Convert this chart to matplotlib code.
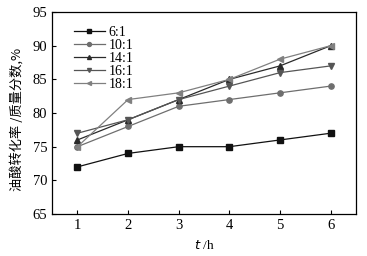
import matplotlib
matplotlib.use("Agg")
import matplotlib.pyplot as plt

hours = [1, 2, 3, 4, 5, 6]
ratios = ["6:1", "10:1", "14:1", "16:1", "18:1"]
conv_6 = [72, 74, 75, 75, 76, 77]
conv_10 = [75, 78, 81, 82, 83, 84]
conv_14 = [76, 79, 82, 85, 87, 90]
conv_16 = [77, 79, 82, 84, 86, 87]
conv_18 = [75, 82, 83, 85, 88, 90]

series = [conv_6, conv_10, conv_14, conv_16, conv_18]
markers = ["s", "o", "^", "v", "<"]
colors = ["#111111", "#6e6e6e", "#2a2a2a", "#555555", "#808080"]

plt.rcParams["font.family"] = ["Liberation Serif", "Noto Sans CJK SC"]

fig = plt.figure(figsize=(3.67, 2.56), dpi=100)
ax = fig.add_axes([0.142, 0.164, 0.828, 0.789])

for vals, lab, m, c in zip(series, ratios, markers, colors):
    ax.plot(hours, vals, marker=m, color=c, markersize=3.8, linewidth=0.9, label=lab)

ax.set_xlim(0.5, 6.5)
ax.set_ylim(65, 95)
ax.set_xticks(hours)
ax.set_yticks(range(65, 96, 5))
ax.tick_params(direction="in", length=3, labelsize=10.5, top=False, right=False)
for s in ax.spines.values():
    s.set_linewidth(0.9)

ax.set_xlabel(r"$\it{t}$ /h", fontsize=9.5, labelpad=5)
ax.set_ylabel("油酸转化率 /质量分数,%", fontsize=9.5,
              family=["Noto Sans CJK SC", "Liberation Serif"])
ax.yaxis.set_label_coords(-0.095, 0.47)

ax.legend(loc="upper left", frameon=False, fontsize=10, handlelength=2.2,
          handletextpad=0.3, labelspacing=0.0, borderaxespad=0.3,
          markerscale=0.75, bbox_to_anchor=(0.04, 0.98))

fig.savefig("out.png", dpi=100)
